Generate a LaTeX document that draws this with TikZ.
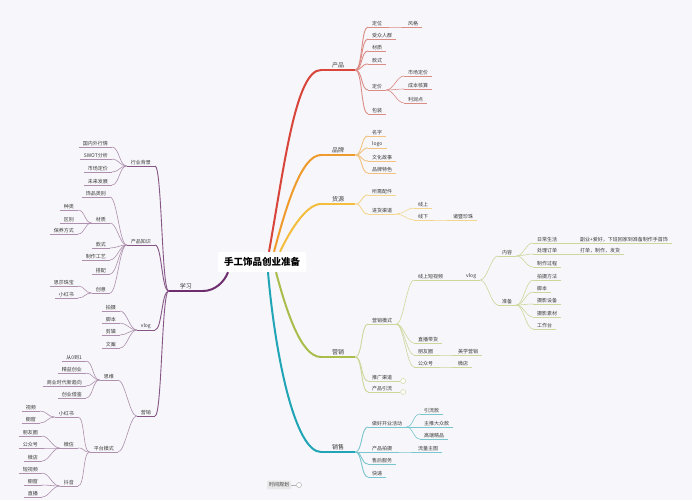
\documentclass[tikz,border=0pt]{standalone}
\usepackage{fontspec}
\newfontfamily\cjk{Noto Sans CJK SC}
\definecolor{bg}{HTML}{F7F6FA}
\definecolor{txt}{HTML}{3A3A3A}
\definecolor{c1}{HTML}{D8453A}
\definecolor{c1l}{HTML}{DC8C86}
\definecolor{c2}{HTML}{EF9A2C}
\definecolor{c2l}{HTML}{F2C27E}
\definecolor{c3}{HTML}{F4BD3E}
\definecolor{c3l}{HTML}{F3D68E}
\definecolor{c4}{HTML}{A8BD4A}
\definecolor{c4l}{HTML}{CDD79C}
\definecolor{c5}{HTML}{1FA5B5}
\definecolor{c5l}{HTML}{79C6CF}
\definecolor{c6}{HTML}{6E2E6E}
\definecolor{c6m}{HTML}{855585}
\definecolor{c6l}{HTML}{AE90AE}

\begin{document}
\begin{tikzpicture}[x=1pt,y=-1pt,
  main node/.style={fill=white,rounded corners=2pt,minimum width=88pt,minimum height=20pt,
    font=\cjk\bfseries\fontsize{9.5}{11}\selectfont},
  topic node/.style={font=\cjk\fontsize{6}{7}\selectfont,text=txt,inner xsep=11pt,inner ysep=1.5pt,
    append after command={(\tikzlastnode.south west) edge[draw=#1,line width=1.4pt] (\tikzlastnode.south east)}},
  sub node/.style={font=\cjk\fontsize{5}{6}\selectfont,text=txt,inner xsep=4pt,inner ysep=1pt,
    append after command={(\tikzlastnode.south west) edge[draw=#1,line width=0.9pt] (\tikzlastnode.south east)}},
  leaf node/.style={font=\cjk\fontsize{5}{6}\selectfont,text=txt,inner xsep=4pt,inner ysep=1pt,
    append after command={(\tikzlastnode.south west) edge[draw=#1,line width=0.6pt] (\tikzlastnode.south east)}},
  fold node/.style={circle,draw=#1,fill=white,inner sep=0pt,minimum size=5pt,line width=0.5pt},
  time node/.style={fill=gray!18,rounded corners=1pt,font=\cjk\fontsize{5}{6}\selectfont,text=txt,inner sep=2pt},
  right link/.style={out=0,in=180,distance=7pt},
  left link/.style={out=180,in=0,distance=7pt}]

  \fill[bg] (0,0) rectangle (692,500);

  \node[main node] (0) at (262,262) {手工饰品创业准备};

  \node[topic node=c1,anchor=south west] (1) at (321,70) {产品};
  \node[sub node=c1l,anchor=south west] (11) at (368,27) {定位};
  \node[leaf node=c1l,anchor=south west] (111) at (404,27) {风格};
  \node[sub node=c1l,anchor=south west] (12) at (368,39) {受众人群};
  \node[sub node=c1l,anchor=south west] (13) at (368,51) {材质};
  \node[sub node=c1l,anchor=south west] (14) at (368,64) {款式};
  \node[sub node=c1l,anchor=south west] (15) at (368,90) {定价};
  \node[leaf node=c1l,anchor=south west] (151) at (404,76) {市场定价};
  \node[leaf node=c1l,anchor=south west] (152) at (404,89) {成本核算};
  \node[leaf node=c1l,anchor=south west] (153) at (404,103) {利润点};
  \node[sub node=c1l,anchor=south west] (16) at (368,114) {包装};

  \node[topic node=c2,anchor=south west] (2) at (321,155) {品牌};
  \node[sub node=c2l,anchor=south west] (21) at (368,136) {名字};
  \node[sub node=c2l,anchor=south west] (22) at (368,148) {logo};
  \node[sub node=c2l,anchor=south west] (23) at (368,161) {文化故事};
  \node[sub node=c2l,anchor=south west] (24) at (368,173) {品牌特色};

  \node[topic node=c3,anchor=south west] (3) at (321,204) {货源};
  \node[sub node=c3l,anchor=south west] (31) at (368,195) {所需配件};
  \node[sub node=c3l,anchor=south west] (32) at (368,214) {进货渠道};
  \node[leaf node=c3l,anchor=south west] (321) at (414,208) {线上};
  \node[leaf node=c3l,anchor=south west] (322) at (414,220) {线下};
  \node[leaf node=c3l,anchor=south west] (3221) at (449,220) {诸暨珍珠};

  \node[topic node=c4,anchor=south west] (4) at (321,357) {营销};
  \node[sub node=c4l,anchor=south west] (41) at (368,324) {营销模式};
  \node[leaf node=c4l,anchor=south west] (411) at (414,280) {线上短视频};
  \node[leaf node=c4l,anchor=south west] (4111) at (462,280) {vlog};
  \node[leaf node=c4l,anchor=south west] (41111) at (498,256) {内容};
  \node[leaf node=c4l,anchor=south west] (411111) at (533,243) {日常生活};
  \node[leaf node=c4l,anchor=south west] (4111111) at (576,243) {副业+爱好，下班回家到准备制作手首饰};
  \node[leaf node=c4l,anchor=south west] (411112) at (533,254) {处理订单};
  \node[leaf node=c4l,anchor=south west] (4111121) at (576,254) {打单，制作，发货};
  \node[leaf node=c4l,anchor=south west] (411113) at (533,267) {制作过程};
  \node[leaf node=c4l,anchor=south west] (41112) at (498,305) {准备};
  \node[leaf node=c4l,anchor=south west] (411121) at (533,280) {拍摄方法};
  \node[leaf node=c4l,anchor=south west] (411122) at (533,292) {脚本};
  \node[leaf node=c4l,anchor=south west] (411123) at (533,304) {摄影设备};
  \node[leaf node=c4l,anchor=south west] (411124) at (533,317) {摄影素材};
  \node[leaf node=c4l,anchor=south west] (411125) at (533,329) {工作台};
  \node[leaf node=c4l,anchor=south west] (412) at (414,343) {直播带货};
  \node[leaf node=c4l,anchor=south west] (413) at (414,355) {朋友圈};
  \node[leaf node=c4l,anchor=south west] (4131) at (454,355) {美学营销};
  \node[leaf node=c4l,anchor=south west] (414) at (414,367) {公众号};
  \node[leaf node=c4l,anchor=south west] (4141) at (454,367) {微店};
  \node[sub node=c4l,anchor=south west] (42) at (368,381) {推广渠道};
  \node[fold node=c4l,anchor=west] (421) at ([xshift=4pt]42.south east) {};
  \node[sub node=c4l,anchor=south west] (43) at (368,392) {产品引流};
  \node[fold node=c4l,anchor=west] (431) at ([xshift=4pt]43.south east) {};

  \node[topic node=c5,anchor=south west] (5) at (321,452) {销售};
  \node[sub node=c5l,anchor=south west] (51) at (368,427) {做好开业活动};
  \node[leaf node=c5l,anchor=south west] (511) at (420,414) {引流款};
  \node[leaf node=c5l,anchor=south west] (512) at (420,427) {主推大众款};
  \node[leaf node=c5l,anchor=south west] (513) at (420,439) {高端精品};
  \node[sub node=c5l,anchor=south west] (52) at (368,452) {产品拍摄};
  \node[leaf node=c5l,anchor=south west] (521) at (414,452) {流量主图};
  \node[sub node=c5l,anchor=south west] (53) at (368,464) {售后服务};
  \node[sub node=c5l,anchor=south west] (54) at (368,477) {快递};

  \node[topic node=c6,anchor=south east] (6) at (203,291) {学习};
  \node[sub node=c6m,anchor=south east] (61) at (155,166) {行业背景};
  \node[leaf node=c6l,anchor=south east] (611) at (112,147) {国内外行情};
  \node[leaf node=c6l,anchor=south east] (612) at (112,159) {SWOT分析};
  \node[leaf node=c6l,anchor=south east] (613) at (112,172) {市场定价};
  \node[leaf node=c6l,anchor=south east] (614) at (112,185) {未来发展};
  \node[sub node=c6m,anchor=south east] (62) at (155,245) {产品知识};
  \node[leaf node=c6l,anchor=south east] (621) at (110,197) {饰品类别};
  \node[leaf node=c6l,anchor=south east] (622) at (110,223) {材质};
  \node[leaf node=c6l,anchor=south east] (6221) at (78,210) {种类};
  \node[leaf node=c6l,anchor=south east] (6222) at (78,223) {区别};
  \node[leaf node=c6l,anchor=south east] (6223) at (78,234) {保养方式};
  \node[leaf node=c6l,anchor=south east] (623) at (110,248) {款式};
  \node[leaf node=c6l,anchor=south east] (624) at (110,260) {制作工艺};
  \node[leaf node=c6l,anchor=south east] (625) at (110,274) {搭配};
  \node[leaf node=c6l,anchor=south east] (626) at (110,293) {创意};
  \node[leaf node=c6l,anchor=south east] (6261) at (78,286) {思莎珠宝};
  \node[leaf node=c6l,anchor=south east] (6262) at (78,298) {小红书};
  \node[sub node=c6m,anchor=south east] (63) at (155,330) {vlog};
  \node[leaf node=c6l,anchor=south east] (631) at (120,311) {拍摄};
  \node[leaf node=c6l,anchor=south east] (632) at (120,323) {脚本};
  \node[leaf node=c6l,anchor=south east] (633) at (120,335) {剪辑};
  \node[leaf node=c6l,anchor=south east] (634) at (120,348) {文案};
  \node[sub node=c6m,anchor=south east] (64) at (155,416) {营销};
  \node[leaf node=c6l,anchor=south east] (641) at (118,380) {思维};
  \node[leaf node=c6l,anchor=south east] (6411) at (86,361) {从0到1};
  \node[leaf node=c6l,anchor=south east] (6412) at (86,373) {精益创业};
  \node[leaf node=c6l,anchor=south east] (6413) at (86,386) {商业时代新趋向};
  \node[leaf node=c6l,anchor=south east] (6414) at (86,398) {创业借鉴};
  \node[leaf node=c6l,anchor=south east] (642) at (118,452) {平台模式};
  \node[leaf node=c6l,anchor=south east] (6421) at (78,417) {小红书};
  \node[leaf node=c6l,anchor=south east] (64211) at (40,411) {视频};
  \node[leaf node=c6l,anchor=south east] (64212) at (40,423) {橱窗};
  \node[leaf node=c6l,anchor=south east] (6422) at (78,448) {微信};
  \node[leaf node=c6l,anchor=south east] (64221) at (42,436) {朋友圈};
  \node[leaf node=c6l,anchor=south east] (64222) at (42,448) {公众号};
  \node[leaf node=c6l,anchor=south east] (64223) at (42,461) {微店};
  \node[leaf node=c6l,anchor=south east] (6423) at (78,486) {抖音};
  \node[leaf node=c6l,anchor=south east] (64231) at (42,473) {短视频};
  \node[leaf node=c6l,anchor=south east] (64232) at (42,485) {橱窗};
  \node[leaf node=c6l,anchor=south east] (64233) at (42,497) {直播};

  \node[time node] (7) at (279,485) {时间规划};
  \node[fold node=gray!60] (71) at (299,485) {};

  \path[line width=2pt]
    ([xshift=7pt]0.north) edge[draw=c1,out=80,in=180,out distance=90pt,in distance=25pt] (1.south west)
    ([xshift=12pt]0.north) edge[draw=c2,out=75,in=180,out distance=45pt,in distance=20pt] (2.south west)
    ([xshift=18pt]0.north) edge[draw=c3,out=65,in=180,out distance=22pt,in distance=15pt] (3.south west)
    ([xshift=14pt]0.south) edge[draw=c4,out=-75,in=180,out distance=40pt,in distance=20pt] (4.south west)
    ([xshift=6pt]0.south) edge[draw=c5,out=-85,in=180,out distance=90pt,in distance=25pt] (5.south west)
    ([xshift=-34pt]0.south) edge[draw=c6,out=-110,in=0,out distance=10pt,in distance=12pt] (6.south east);

  \path[draw=c1l,line width=0.9pt]
    (1.south east) edge[right link] (11.south west) edge[right link] (12.south west)
      edge[right link] (13.south west) edge[right link] (14.south west)
      edge[right link] (15.south west) edge[right link] (16.south west);
  \path[draw=c1l,line width=0.6pt]
    (11.south east) edge[right link] (111.south west)
    (15.south east) edge[right link] (151.south west) edge[right link] (152.south west)
      edge[right link] (153.south west);

  \path[draw=c2l,line width=0.9pt]
    (2.south east) edge[right link] (21.south west) edge[right link] (22.south west)
      edge[right link] (23.south west) edge[right link] (24.south west);

  \path[draw=c3l,line width=0.9pt]
    (3.south east) edge[right link] (31.south west) edge[right link] (32.south west);
  \path[draw=c3l,line width=0.6pt]
    (32.south east) edge[right link] (321.south west) edge[right link] (322.south west)
    (322.south east) edge[right link] (3221.south west);

  \path[draw=c4l,line width=0.9pt]
    (4.south east) edge[right link] (41.south west) edge[right link] (42.south west)
      edge[right link] (43.south west)
    (42.south east) edge (421)
    (43.south east) edge (431);
  \path[draw=c4l,line width=0.6pt]
    (41.south east) edge[right link] (411.south west) edge[right link] (412.south west)
      edge[right link] (413.south west) edge[right link] (414.south west)
    (411.south east) edge[right link] (4111.south west)
    (4111.south east) edge[right link] (41111.south west) edge[right link] (41112.south west)
    (41111.south east) edge[right link] (411111.south west) edge[right link] (411112.south west)
      edge[right link] (411113.south west)
    (411111.south east) edge[right link] (4111111.south west)
    (411112.south east) edge[right link] (4111121.south west)
    (41112.south east) edge[right link] (411121.south west) edge[right link] (411122.south west)
      edge[right link] (411123.south west) edge[right link] (411124.south west)
      edge[right link] (411125.south west)
    (413.south east) edge[right link] (4131.south west)
    (414.south east) edge[right link] (4141.south west);

  \path[draw=c5l,line width=0.9pt]
    (5.south east) edge[right link] (51.south west) edge[right link] (52.south west)
      edge[right link] (53.south west) edge[right link] (54.south west);
  \path[draw=c5l,line width=0.6pt]
    (51.south east) edge[right link] (511.south west) edge[right link] (512.south west)
      edge[right link] (513.south west)
    (52.south east) edge[right link] (521.south west);

  \path[draw=c6m,line width=0.9pt]
    (6.south west) edge[left link] (61.south east) edge[left link] (62.south east)
      edge[left link] (63.south east) edge[left link] (64.south east);
  \path[draw=c6l,line width=0.6pt]
    (61.south west) edge[left link] (611.south east) edge[left link] (612.south east)
      edge[left link] (613.south east) edge[left link] (614.south east)
    (62.south west) edge[left link] (621.south east) edge[left link] (622.south east)
      edge[left link] (623.south east) edge[left link] (624.south east)
      edge[left link] (625.south east) edge[left link] (626.south east)
    (622.south west) edge[left link] (6221.south east) edge[left link] (6222.south east)
      edge[left link] (6223.south east)
    (626.south west) edge[left link] (6261.south east) edge[left link] (6262.south east)
    (63.south west) edge[left link] (631.south east) edge[left link] (632.south east)
      edge[left link] (633.south east) edge[left link] (634.south east)
    (64.south west) edge[left link] (641.south east) edge[left link] (642.south east)
    (641.south west) edge[left link] (6411.south east) edge[left link] (6412.south east)
      edge[left link] (6413.south east) edge[left link] (6414.south east)
    (642.south west) edge[left link] (6421.south east) edge[left link] (6422.south east)
      edge[left link] (6423.south east)
    (6421.south west) edge[left link] (64211.south east) edge[left link] (64212.south east)
    (6422.south west) edge[left link] (64221.south east) edge[left link] (64222.south east)
      edge[left link] (64223.south east)
    (6423.south west) edge[left link] (64231.south east) edge[left link] (64232.south east)
      edge[left link] (64233.south east);
  \path[draw=gray!60,line width=0.6pt] (7) edge (71);
\end{tikzpicture}
\end{document}
